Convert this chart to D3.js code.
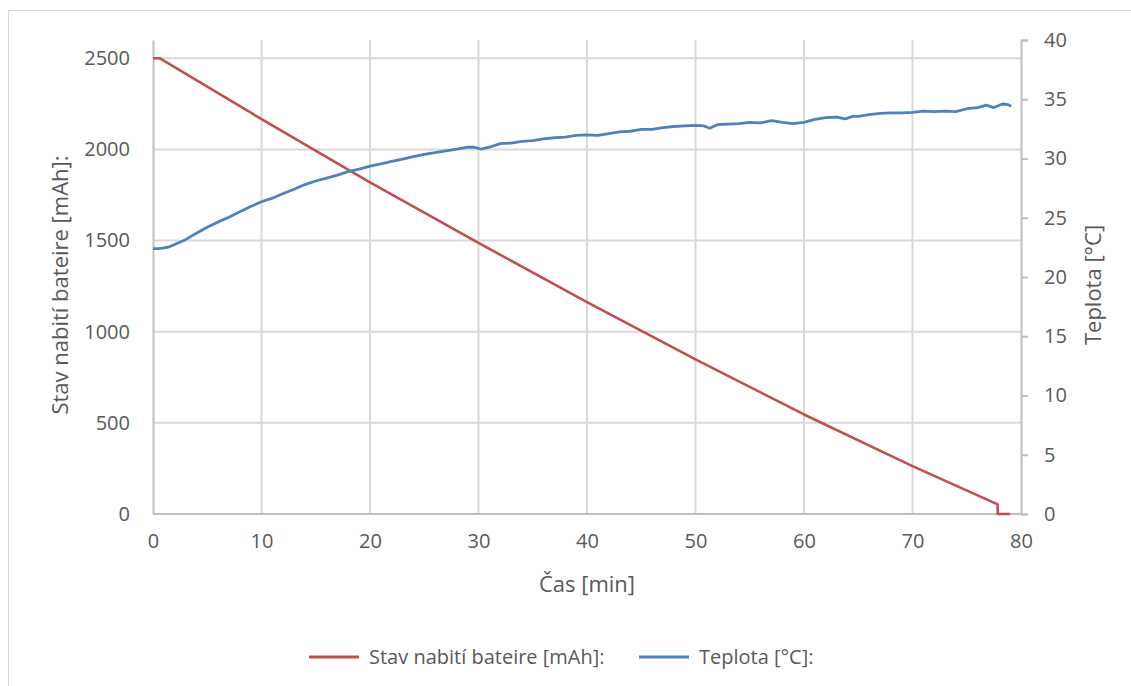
<!DOCTYPE html>
<html><head><meta charset="utf-8">
<script src="https://cdn.jsdelivr.net/npm/d3@7"></script>
<style>body{margin:0;background:#fff}svg{display:block}text{font-family:"Open Sans",sans-serif;fill:#595959}</style>
</head><body>
<svg id="c" width="1131" height="686"></svg>
<script>
const xTicks = [0,10,20,30,40,50,60,70,80];
const leftTicks = [0,500,1000,1500,2000,2500];
const rightTicks = [0,5,10,15,20,25,30,35,40];
const seriesNames = ["Stav nabití bateire [mAh]:", "Teplota [°C]:"];
const chargeTime = [0,0.6,10,20,30,40,50,60,70,77.85,77.85,79.0];
const chargeVal = [2500,2500,2166,1819,1487,1162,848,546,263,53,0,0];
const tempTime = [0,0.5,1,1.5,2,3,4,5,6,7,8,9,10,11,12,13,14,15,16,17,18,19,20,21,22,23,24,25,26,27,28,29,29.6,30.2,31,32,33,34,35,36,37,38,39,40,41,42,43,44,45,46,47,48,49,50,50.8,51.3,52,53,54,55,56,57,58,59,60,61,62,63,63.8,64.5,65,66,67,68,69,70,71,72,73,74,75,76,76.8,77.5,78.3,78.8,79.1];
const tempVal = [22.4,22.4,22.45,22.55,22.75,23.15,23.7,24.2,24.65,25.05,25.5,25.95,26.35,26.65,27.05,27.4,27.8,28.1,28.35,28.6,28.9,29.1,29.35,29.55,29.75,29.95,30.15,30.35,30.5,30.65,30.8,30.95,30.95,30.8,30.95,31.25,31.3,31.45,31.5,31.65,31.75,31.8,31.95,32.0,31.95,32.1,32.25,32.3,32.45,32.45,32.6,32.7,32.75,32.8,32.75,32.55,32.85,32.9,32.95,33.05,33.0,33.2,33.05,32.95,33.05,33.3,33.45,33.5,33.35,33.55,33.55,33.7,33.8,33.85,33.85,33.9,34.0,33.95,34.0,33.95,34.2,34.3,34.5,34.3,34.6,34.55,34.4];
const xTitle = "Čas [min]";
const leftTitle = "Stav nabití bateire [mAh]:";
const rightTitle = "Teplota [°C]";

const svg = d3.select("#c");
const L = 153, R = 1021, T = 40, B = 514;
const x = d3.scaleLinear().domain([0,80]).range([L,R]);
const yL = d3.scaleLinear().domain([0,2600]).range([B,T]);
const yR = d3.scaleLinear().domain([0,40]).range([B,T]);
const grid = "#d9d9d9", axisC = "#bfbfbf";

svg.append("rect").attr("x",8.5).attr("y",10.5).attr("width",1140).attr("height",700)
  .attr("fill","none").attr("stroke","#d9d9d9").attr("stroke-width",1);

// gridlines
svg.append("g").selectAll("line").data(leftTicks.filter(d=>d>0)).join("line")
  .attr("x1",L).attr("x2",R).attr("y1",d=>yL(d)).attr("y2",d=>yL(d))
  .attr("stroke",grid).attr("stroke-width",2);
svg.append("g").selectAll("line").data(xTicks.filter(d=>d>0&&d<80)).join("line")
  .attr("x1",d=>x(d)).attr("x2",d=>x(d)).attr("y1",T).attr("y2",B)
  .attr("stroke",grid).attr("stroke-width",2);

// axes
const gx = svg.append("g").attr("transform",`translate(0,${B})`)
  .call(d3.axisBottom(x).tickValues(xTicks).tickSize(0).tickPadding(20).tickFormat(d3.format("d")));
const gl = svg.append("g").attr("transform",`translate(${L},0)`)
  .call(d3.axisLeft(yL).tickValues(leftTicks).tickSize(0).tickPadding(23).tickFormat(d3.format("d")));
const gr = svg.append("g").attr("transform",`translate(${R},0)`)
  .call(d3.axisRight(yR).tickValues(rightTicks).tickSize(7).tickPadding(16).tickFormat(d3.format("d")));
[gx,gl,gr].forEach(g=>{
  g.select(".domain").attr("stroke",axisC).attr("stroke-width",2);
  g.selectAll(".tick line").attr("stroke",axisC).attr("stroke-width",2);
  g.selectAll("text").attr("font-size",20).attr("fill","#595959").attr("font-family","Open Sans");
});
gx.select(".domain").attr("d",`M${L},0H${R}`);

// lines
const lineC = d3.line().x(d=>x(d[0])).y(d=>yL(d[1]));
const lineT = d3.line().x(d=>x(d[0])).y(d=>yR(d[1]));
svg.append("path").datum(chargeTime.map((t,i)=>[t,chargeVal[i]])).attr("d",lineC)
  .attr("fill","none").attr("stroke","#c0504d").attr("stroke-width",2.6).attr("stroke-linejoin","round");
svg.append("path").datum(tempTime.map((t,i)=>[t,tempVal[i]])).attr("d",lineT)
  .attr("fill","none").attr("stroke","#4f81bd").attr("stroke-width",2.8).attr("stroke-linejoin","round");

// titles
svg.append("text").attr("x",(L+R)/2).attr("y",592).attr("text-anchor","middle").attr("font-size",22).text(xTitle);
svg.append("text").attr("transform",`translate(68,${(T+B)/2+8}) rotate(-90)`).attr("text-anchor","middle").attr("font-size",22).text(leftTitle);
svg.append("text").attr("transform",`translate(1101,${(T+B)/2+8}) rotate(-90)`).attr("text-anchor","middle").attr("font-size",22).text(rightTitle);

// legend
const leg = [{c:"#c0504d",x1:309,tx:369},{c:"#4f81bd",x1:639,tx:699}];
leg.forEach((l,i)=>{
  svg.append("line").attr("x1",l.x1).attr("x2",l.x1+50).attr("y1",657).attr("y2",657).attr("stroke",l.c).attr("stroke-width",3);
  svg.append("text").attr("x",l.tx).attr("y",664).attr("font-size",20).text(seriesNames[i]);
});
</script>
</body></html>
